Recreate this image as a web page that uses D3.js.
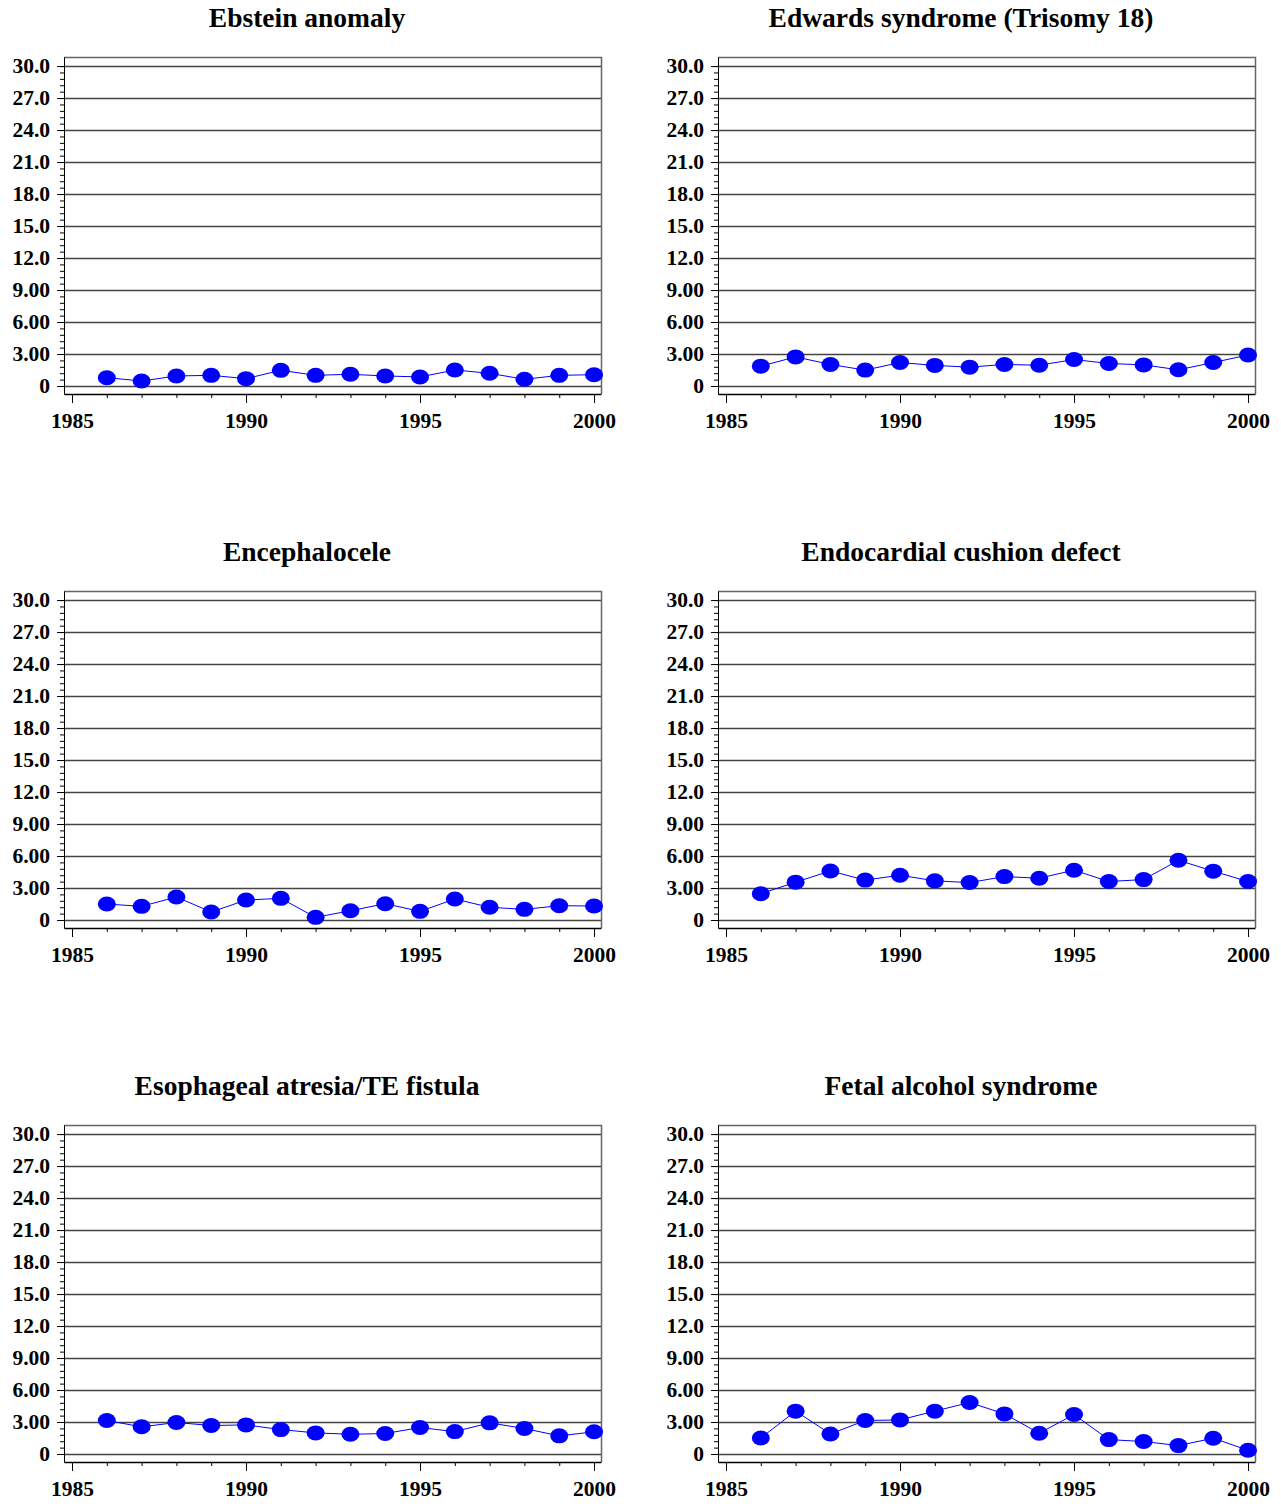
<!DOCTYPE html>
<html>
<head>
<meta charset="utf-8">
<script src="https://cdn.jsdelivr.net/npm/d3@7"></script>
<style>
  body { margin: 0; background: #fff; }
  svg { display: block; }
</style>
</head>
<body>
<div id="chart"></div>
<script>
const years = d3.range(1986, 2001);

const titles = [
  'Ebstein anomaly',
  'Edwards syndrome (Trisomy 18)',
  'Encephalocele',
  'Endocardial cushion defect',
  'Esophageal atresia/TE fistula',
  'Fetal alcohol syndrome',
];

const ebstein = [0.78, 0.47, 0.94, 1.0, 0.69, 1.47, 1.0, 1.1, 0.94, 0.85, 1.5, 1.19, 0.63, 1.0, 1.06];
const edwards = [1.86, 2.73, 2.02, 1.49, 2.2, 1.93, 1.77, 2.02, 1.95, 2.48, 2.11, 1.98, 1.52, 2.2, 2.91];
const encephalocele = [1.5, 1.28, 2.16, 0.75, 1.87, 2.03, 0.25, 0.87, 1.53, 0.81, 1.97, 1.19, 1.0, 1.34, 1.31];
const endocardial = [2.46, 3.55, 4.6, 3.74, 4.2, 3.67, 3.51, 4.07, 3.92, 4.67, 3.61, 3.79, 5.6, 4.58, 3.61];
const esophageal = [3.14, 2.55, 2.95, 2.67, 2.73, 2.29, 1.98, 1.85, 1.92, 2.48, 2.1, 2.92, 2.39, 1.7, 2.08];
const fetalAlcohol = [1.5, 4.02, 1.88, 3.14, 3.2, 4.02, 4.83, 3.76, 1.95, 3.7, 1.35, 1.17, 0.79, 1.48, 0.35];

const series = [ebstein, edwards, encephalocele, endocardial, esophageal, fetalAlcohol];

const yTickValues = [0, 3, 6, 9, 12, 15, 18, 21, 24, 27, 30];
const yTickLabels = ['0', '3.00', '6.00', '9.00', '12.0', '15.0', '18.0', '21.0', '24.0', '27.0', '30.0'];
const xTickValues = [1985, 1990, 1995, 2000];

const size = { width: 1281, height: 1504 };
const panel = { dx: 654, dy: 534 };
const plot = { left: 64, right: 601, top: 57, bottom: 394 };
const font = '"Liberation Serif", "Times New Roman", serif';

const svg = d3
  .select('#chart')
  .append('svg')
  .attr('width', size.width)
  .attr('height', size.height);

const x = d3.scaleLinear().domain([1984.77, 2000.2]).range([plot.left, plot.right]);
const y = d3.scaleLinear().domain([-0.75, 30.85]).range([plot.bottom, plot.top]);

const styleText = (sel, px) => sel
  .attr('font-family', font)
  .attr('font-weight', 'bold')
  .attr('font-size', px)
  .attr('fill', '#000');

series.forEach((values, i) => {
  const col = i % 2;
  const row = Math.floor(i / 2);
  const g = svg
    .append('g')
    .attr('transform', `translate(${col * panel.dx}, ${row * panel.dy})`);

  g.append('text')
    .text(titles[i])
    .attr('x', 307)
    .attr('y', 27)
    .attr('text-anchor', 'middle')
    .call(styleText, '27.5px');

  // gridlines
  g.selectAll('.grid')
    .data(yTickValues)
    .enter()
    .append('line')
    .attr('x1', plot.left)
    .attr('x2', plot.right)
    .attr('y1', (d) => Math.round(y(d)) + 0.5)
    .attr('y2', (d) => Math.round(y(d)) + 0.5)
    .attr('stroke', '#444')
    .attr('stroke-width', 1.3);

  // frame top + right
  g.append('path')
    .attr('d', `M${plot.left},${plot.top + 0.5}H${plot.right + 0.5}V${plot.bottom}`)
    .attr('fill', 'none')
    .attr('stroke', '#666')
    .attr('stroke-width', 1.5);

  // y axis, minor then major
  g.append('g')
    .attr('transform', `translate(${plot.left},0)`)
    .call(d3.axisLeft(y).tickValues(d3.range(0, 30.01, 0.6)).tickSize(4).tickFormat(''))
    .call((a) => a.select('.domain').remove());

  g.append('g')
    .attr('transform', `translate(${plot.left},0)`)
    .call(
      d3
        .axisLeft(y)
        .tickValues(yTickValues)
        .tickSize(7)
        .tickSizeOuter(0)
        .tickPadding(7)
        .tickFormat((d, j) => yTickLabels[j]),
    )
    .call((a) => a.selectAll('text').call(styleText, '21.5px'));

  // x axis
  g.append('g')
    .attr('transform', `translate(0,${plot.bottom})`)
    .call(d3.axisBottom(x).tickValues(years.filter((d) => d % 5 !== 0)).tickSize(4).tickFormat(''))
    .call((a) => a.select('.domain').remove());

  g.append('g')
    .attr('transform', `translate(0,${plot.bottom})`)
    .call(
      d3
        .axisBottom(x)
        .tickValues(xTickValues)
        .tickSize(9)
        .tickSizeOuter(0)
        .tickPadding(10)
        .tickFormat(d3.format('d')),
    )
    .call((a) => a.select('.domain').attr('stroke-width', 1.3))
    .call((a) => a.selectAll('text').call(styleText, '21.5px'));

  const data = years.map((yr, j) => ({ year: yr, value: values[j] }));

  g.append('path')
    .datum(data)
    .attr('d', d3.line().x((d) => x(d.year)).y((d) => y(d.value)))
    .attr('fill', 'none')
    .attr('stroke', '#0000ff')
    .attr('stroke-width', 1);

  g.selectAll('.pt')
    .data(data)
    .enter()
    .append('ellipse')
    .attr('cx', (d) => x(d.year))
    .attr('cy', (d) => y(d.value))
    .attr('rx', 9)
    .attr('ry', 7.5)
    .attr('fill', '#0000ff');
});
</script>
</body>
</html>
